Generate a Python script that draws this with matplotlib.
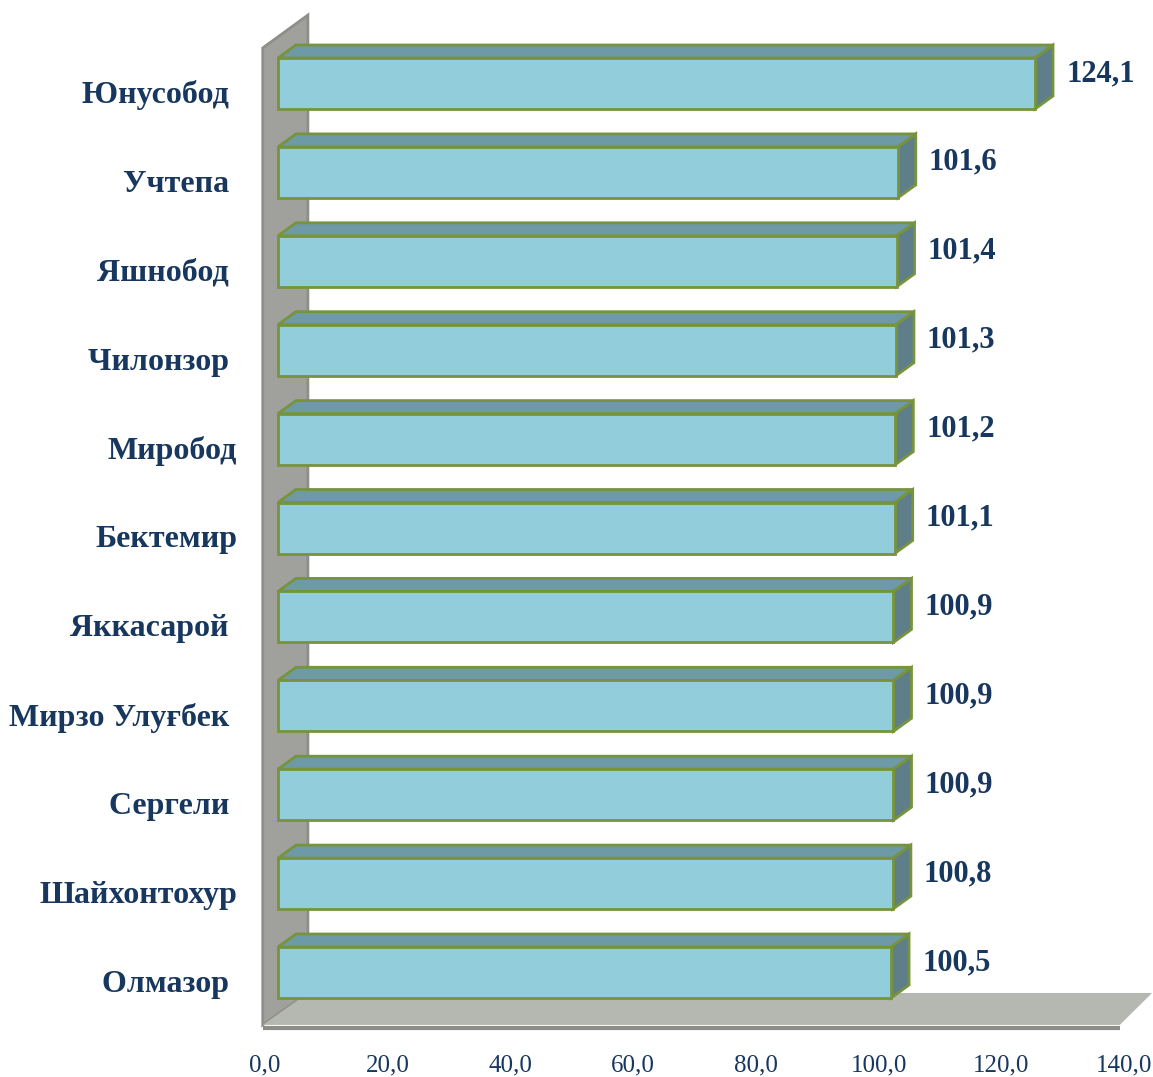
import matplotlib.pyplot as plt
from matplotlib.patches import Polygon, Rectangle

districts = ['Юнусобод ', 'Учтепа ', 'Яшнобод ', 'Чилонзор ', 'Миробод', 'Бектемир',
             'Яккасарой ', 'Мирзо Улуғбек ', 'Сергели ', 'Шайхонтохур', 'Олмазор ']
values = [124.1, 101.6, 101.4, 101.3, 101.2, 101.1, 100.9, 100.9, 100.9, 100.8, 100.5]
ticks = [0, 20, 40, 60, 80, 100, 120, 140]

W, H = 1153, 1077
front_c = '#92CDDC'
top_c = '#6E9AA8'
side_c = '#5E7F8A'
edge_c = '#77933C'
text_c = '#17375E'
font = 'Liberation Serif'

# pixel scale of the chart area
px_val = 6.1      # pixels per unit of value
x0_px = 278       # value 0
row_px = 88.9     # pixels between bars
y0_px = 83.5      # centre of first bar

fig = plt.figure(figsize=(W / 100, H / 100), dpi=100)
ax = fig.add_axes([0, 0, 1, 1])
ax.set_xlim(-x0_px / px_val, (W - x0_px) / px_val)
ax.set_ylim((H - y0_px) / row_px, -y0_px / row_px)
ax.axis('off')

# back wall and floor
wx0, wx1 = -2.5, 4.9
wall = [(wx0, -0.40), (wx1, -0.77), (wx1, 10.23), (wx0, 10.59)]
ax.add_patch(Polygon(wall, closed=True, fc='#A0A09C', ec='#8E8E8A', lw=2, zorder=1))
floor = [(wx0, 10.59), (138.0, 10.59), (143.3, 10.23), (wx1, 10.23)]
ax.add_patch(Polygon(floor, closed=True, fc='#B5B7B1', ec='none', zorder=1))
ax.plot([wx0, 138.0], [10.62, 10.62], color='#8C8C89', lw=3, zorder=1, solid_capstyle='butt')

bh = 51 / row_px
dx = 18 / px_val
dy = 13 / row_px
for i, (name, v) in enumerate(zip(districts, values)):
    top = i - bh / 2
    bot = i + bh / 2
    ax.add_patch(Polygon([(0, top), (v, top), (v + dx, top - dy), (dx, top - dy)],
                         closed=True, fc=top_c, ec=edge_c, lw=2, zorder=3))
    ax.add_patch(Polygon([(v, top), (v + dx, top - dy), (v + dx, bot - dy), (v, bot)],
                         closed=True, fc=side_c, ec=edge_c, lw=2, zorder=3))
    ax.add_patch(Rectangle((0, top), v, bh, fc=front_c, ec=edge_c, lw=2, zorder=4))
    ax.text(v + 31 / px_val, i - 10 / row_px, f'{v:.1f}'.replace('.', ','),
            ha='left', va='center', fontsize=22, fontweight='bold', color=text_c, family=font)
    ax.text(-41 / px_val, i + 12 / row_px, name, ha='right', va='center',
            fontsize=23, fontweight='bold', color=text_c, family=font)

# value axis labels along the floor edge
ax2 = fig.add_axes([0, (H - 1066) / H, 1, 0.001])
ax2.set_xlim(-265 / 6.136, (W - 265) / 6.136)
ax2.axis('off')
for t in ticks:
    ax2.text(t, 0.5, f'{t:.1f}'.replace('.', ','), ha='center', va='center',
             fontsize=18, color=text_c, family=font)

fig.savefig('out.png', dpi=100)
